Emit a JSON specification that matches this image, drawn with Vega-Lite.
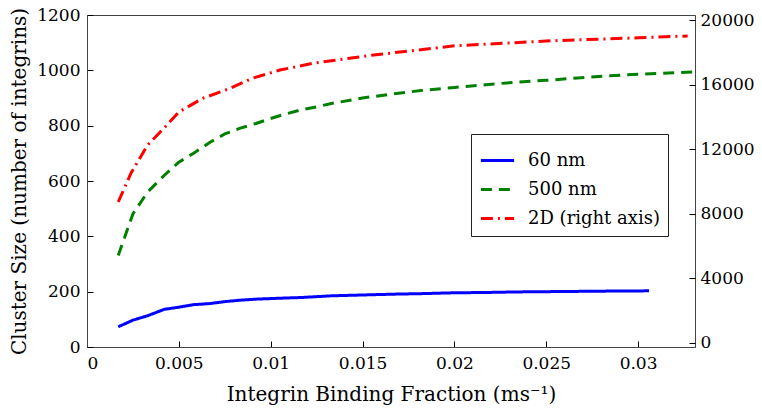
{
  "$schema": "https://vega.github.io/schema/vega-lite/v6.json",
  "width": 608,
  "height": 332,
  "autosize": {"type": "none"},
  "padding": {"left": 87, "top": 15, "right": 67, "bottom": 72},
  "background": "white",
  "config": {
    "font": "DejaVu Serif",
    "view": {"stroke": "#444444", "strokeWidth": 1},
    "axis": {
      "grid": false,
      "domainColor": "#444444",
      "tickColor": "#000000",
      "tickWidth": 1,
      "tickSize": -6,
      "zindex": 1,
      "labelColor": "#000000",
      "labelFont": "DejaVu Serif",
      "labelFontSize": 17,
      "titleFont": "DejaVu Serif",
      "titleFontSize": 20,
      "titleFontWeight": "normal",
      "titleColor": "#000000"
    }
  },
  "datasets": {
    "lines": [
      {"series": "60 nm", "rate": 0.0017, "size": 73},
      {"series": "60 nm", "rate": 0.0025, "size": 97},
      {"series": "60 nm", "rate": 0.0033, "size": 113},
      {"series": "60 nm", "rate": 0.0042, "size": 136},
      {"series": "60 nm", "rate": 0.005, "size": 144},
      {"series": "60 nm", "rate": 0.0058, "size": 153},
      {"series": "60 nm", "rate": 0.0067, "size": 157},
      {"series": "60 nm", "rate": 0.0075, "size": 164},
      {"series": "60 nm", "rate": 0.0083, "size": 169},
      {"series": "60 nm", "rate": 0.0092, "size": 173},
      {"series": "60 nm", "rate": 0.01, "size": 175},
      {"series": "60 nm", "rate": 0.0108, "size": 177},
      {"series": "60 nm", "rate": 0.0117, "size": 179},
      {"series": "60 nm", "rate": 0.0125, "size": 182},
      {"series": "60 nm", "rate": 0.0133, "size": 185},
      {"series": "60 nm", "rate": 0.015, "size": 188},
      {"series": "60 nm", "rate": 0.0167, "size": 191},
      {"series": "60 nm", "rate": 0.0183, "size": 193},
      {"series": "60 nm", "rate": 0.02, "size": 196},
      {"series": "60 nm", "rate": 0.0217, "size": 197},
      {"series": "60 nm", "rate": 0.0233, "size": 199},
      {"series": "60 nm", "rate": 0.025, "size": 200},
      {"series": "60 nm", "rate": 0.0267, "size": 201},
      {"series": "60 nm", "rate": 0.0283, "size": 202},
      {"series": "60 nm", "rate": 0.0306, "size": 203},
      {"series": "500 nm", "rate": 0.0017, "size": 331},
      {"series": "500 nm", "rate": 0.0025, "size": 481},
      {"series": "500 nm", "rate": 0.0033, "size": 560},
      {"series": "500 nm", "rate": 0.0042, "size": 620},
      {"series": "500 nm", "rate": 0.005, "size": 668},
      {"series": "500 nm", "rate": 0.0058, "size": 700},
      {"series": "500 nm", "rate": 0.0067, "size": 740},
      {"series": "500 nm", "rate": 0.0075, "size": 770},
      {"series": "500 nm", "rate": 0.0083, "size": 790},
      {"series": "500 nm", "rate": 0.0092, "size": 808},
      {"series": "500 nm", "rate": 0.01, "size": 826},
      {"series": "500 nm", "rate": 0.0108, "size": 842},
      {"series": "500 nm", "rate": 0.0117, "size": 858},
      {"series": "500 nm", "rate": 0.0125, "size": 868},
      {"series": "500 nm", "rate": 0.0133, "size": 880},
      {"series": "500 nm", "rate": 0.015, "size": 900},
      {"series": "500 nm", "rate": 0.0167, "size": 915},
      {"series": "500 nm", "rate": 0.0183, "size": 928},
      {"series": "500 nm", "rate": 0.02, "size": 938},
      {"series": "500 nm", "rate": 0.0217, "size": 948},
      {"series": "500 nm", "rate": 0.0233, "size": 957},
      {"series": "500 nm", "rate": 0.025, "size": 964},
      {"series": "500 nm", "rate": 0.0267, "size": 972},
      {"series": "500 nm", "rate": 0.0283, "size": 980},
      {"series": "500 nm", "rate": 0.03, "size": 986},
      {"series": "500 nm", "rate": 0.0331, "size": 994}
    ],
    "twod": [
      {"series": "2D (right axis)", "rate": 0.0017, "size": 8730},
      {"series": "2D (right axis)", "rate": 0.0024, "size": 10526},
      {"series": "2D (right axis)", "rate": 0.0033, "size": 12260},
      {"series": "2D (right axis)", "rate": 0.0042, "size": 13313},
      {"series": "2D (right axis)", "rate": 0.005, "size": 14303},
      {"series": "2D (right axis)", "rate": 0.0063, "size": 15150},
      {"series": "2D (right axis)", "rate": 0.0078, "size": 15770},
      {"series": "2D (right axis)", "rate": 0.009, "size": 16390},
      {"series": "2D (right axis)", "rate": 0.0105, "size": 16900},
      {"series": "2D (right axis)", "rate": 0.0123, "size": 17320},
      {"series": "2D (right axis)", "rate": 0.0156, "size": 17830},
      {"series": "2D (right axis)", "rate": 0.02, "size": 18400},
      {"series": "2D (right axis)", "rate": 0.025, "size": 18700},
      {"series": "2D (right axis)", "rate": 0.03, "size": 18900},
      {"series": "2D (right axis)", "rate": 0.0327, "size": 19010}
    ]
  },
  "layer": [
    {
      "data": {"name": "lines"},
      "mark": {"type": "line", "strokeWidth": 3, "clip": true},
      "encoding": {
        "x": {
          "field": "rate",
          "type": "quantitative",
          "scale": {"domain": [0, 0.0331], "nice": false, "zero": false},
          "axis": {
            "values": [0, 0.005, 0.01, 0.015, 0.02, 0.025, 0.03],
            "format": "~g",
            "labelPadding": 14,
            "title": "Integrin Binding Fraction (ms⁻¹)",
            "titlePadding": 13
          }
        },
        "y": {
          "field": "size",
          "type": "quantitative",
          "scale": {"domain": [0, 1200], "nice": false},
          "axis": {
            "values": [0, 200, 400, 600, 800, 1000, 1200],
            "format": "d",
            "labelPadding": 13,
            "title": "Cluster Size (number of integrins)",
            "titlePadding": 7
          }
        },
        "color": {
          "field": "series",
          "type": "nominal",
          "scale": {
            "domain": ["60 nm", "500 nm", "2D (right axis)"],
            "range": ["#0000ff", "#008000", "#ff0000"]
          },
          "legend": {
            "title": null,
            "orient": "none",
            "legendX": 384,
            "legendY": 119,
            "fillColor": "white",
            "strokeColor": "#222222",
            "padding": 8,
            "rowPadding": 1,
            "gridAlign": "none",
            "symbolType": "stroke",
            "symbolSize": 1100,
            "symbolStrokeWidth": 3,
            "labelFont": "DejaVu Serif",
            "labelFontSize": 18,
            "labelColor": "#000000",
            "labelOffset": 12,
            "labelLimit": 300
          }
        },
        "strokeDash": {
          "field": "series",
          "type": "nominal",
          "scale": {
            "domain": ["60 nm", "500 nm", "2D (right axis)"],
            "range": [[1, 0], [11, 7], [12, 5, 2, 5]]
          },
          "legend": {
            "title": null,
            "orient": "none",
            "legendX": 384,
            "legendY": 119,
            "fillColor": "white",
            "strokeColor": "#222222",
            "padding": 8,
            "rowPadding": 1,
            "gridAlign": "none",
            "symbolType": "stroke",
            "symbolSize": 1100,
            "symbolStrokeWidth": 3,
            "labelFont": "DejaVu Serif",
            "labelFontSize": 18,
            "labelColor": "#000000",
            "labelOffset": 12,
            "labelLimit": 300
          }
        }
      }
    },
    {
      "data": {"name": "twod"},
      "mark": {"type": "line", "strokeWidth": 3, "clip": true},
      "encoding": {
        "x": {"field": "rate", "type": "quantitative"},
        "y": {
          "field": "size",
          "type": "quantitative",
          "scale": {"domain": [-250, 20310], "nice": false, "zero": false},
          "axis": {
            "orient": "right",
            "values": [0, 4000, 8000, 12000, 16000, 20000],
            "format": "d",
            "labelPadding": 11,
            "title": null,
            "domain": false
          }
        },
        "color": {"field": "series", "type": "nominal"},
        "strokeDash": {"field": "series", "type": "nominal"}
      }
    }
  ],
  "resolve": {"scale": {"y": "independent"}}
}
